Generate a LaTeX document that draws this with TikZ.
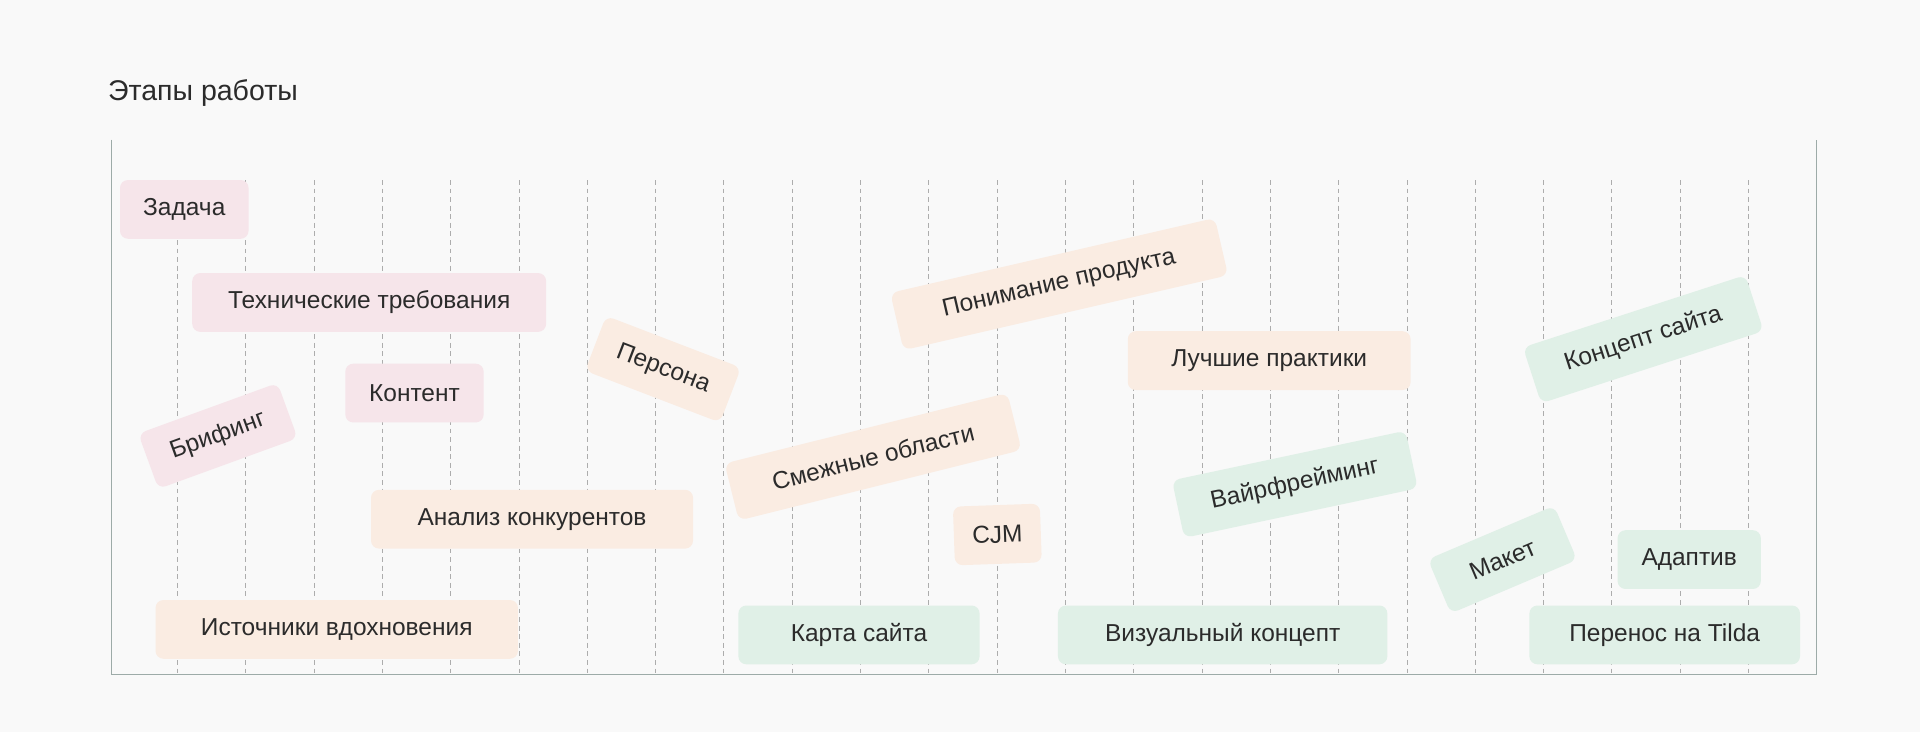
\documentclass[tikz,border=0pt]{standalone}
\usepackage{fontspec}
\setmainfont{Liberation Sans}
\definecolor{bgc}{HTML}{F9F9F9}
\definecolor{axisc}{HTML}{9DABA8}
\definecolor{gridc}{HTML}{ADADAD}
\definecolor{textc}{HTML}{2B2B2B}
\definecolor{pinkc}{HTML}{F6E5EA}
\definecolor{peachc}{HTML}{FAECE2}
\definecolor{greenc}{HTML}{E0F0E7}
\begin{document}
\begin{tikzpicture}[x=1pt, y=-1pt,
  stage/.style={rounded corners=6.5pt, minimum height=48pt, inner sep=0pt, text=textc, font=\fontsize{20}{20}\selectfont},
  pinkstage/.style={stage, fill=pinkc},
  peachstage/.style={stage, fill=peachc},
  greenstage/.style={stage, fill=greenc}]
\fill[bgc] (0,0) rectangle (1568,597.8);
\useasboundingbox (0,0) rectangle (1568,597.8);
\node[anchor=base west, inner sep=0pt, text=textc, font=\fontsize{23.3}{23.3}\selectfont] (title) at (88,82) {Этапы работы};
% grid
\foreach \i in {0,...,23}
  \draw[gridc, line width=0.8pt, dash pattern=on 4pt off 3pt] (145+\i*55.78,147) -- (145+\i*55.78,551);
\draw[axisc, line width=1.2pt] (91,114) -- (91,551) -- (1483.5,551) -- (1483.5,114);
% pink
\node[pinkstage, minimum width=105pt] (zadacha) at (150.5,171) {Задача};
\node[pinkstage, minimum width=289pt] (treb) at (301.5,247) {Технические требования};
\node[pinkstage, minimum width=113pt] (kontent) at (338.5,321) {Контент};
\node[pinkstage, minimum width=121pt, rotate=20] (brif) at (178,356) {Брифинг};
% peach
\node[peachstage, minimum width=263pt] (analiz) at (434.5,424) {Анализ конкурентов};
\node[peachstage, minimum width=296pt] (istoch) at (275,514) {Источники вдохновения};
\node[peachstage, minimum width=118pt, rotate=-21] (persona) at (541.5,301.5) {Персона};
\node[peachstage, minimum width=272pt, rotate=13] (ponim) at (865,232) {Понимание продукта};
\node[peachstage, minimum width=231pt] (praktiki) at (1036.5,294.5) {Лучшие практики};
\node[peachstage, minimum width=238pt, rotate=14] (smezh) at (713,373) {Смежные области};
\node[peachstage, minimum width=71pt, rotate=2] (cjm) at (814.5,436.5) {CJM};
% green
\node[greenstage, minimum width=197pt] (karta) at (701.5,518.5) {Карта сайта};
\node[greenstage, minimum width=269pt] (vizual) at (998.5,518.5) {Визуальный концепт};
\node[greenstage, minimum width=195pt, rotate=12] (vayr) at (1057.5,395.5) {Вайрфрейминг};
\node[greenstage, minimum width=191pt, rotate=18] (koncept) at (1342,277) {Концепт сайта};
\node[greenstage, minimum width=112pt, rotate=23] (maket) at (1227,457) {Макет};
\node[greenstage, minimum width=117pt] (adaptiv) at (1379.5,457) {Адаптив};
\node[greenstage, minimum width=221pt] (tilda) at (1359.5,518.5) {Перенос на Tilda};
\end{tikzpicture}
\end{document}
